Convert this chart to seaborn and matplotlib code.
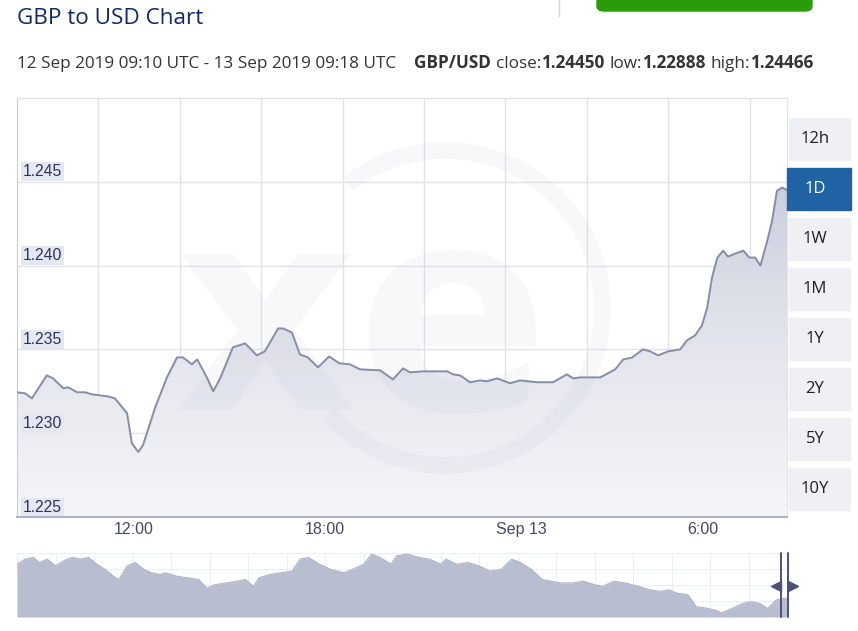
# GBP to USD, 1 day chart (xe style) rebuilt with seaborn + matplotlib
import numpy as np
import pandas as pd
import matplotlib
matplotlib.use("Agg")
import matplotlib.pyplot as plt
import matplotlib.dates as mdates
import matplotlib.transforms as mtransforms
from matplotlib.colors import LinearSegmentedColormap
from matplotlib.patches import Rectangle, FancyBboxPatch, Arc
import seaborn as sns

# --- data --------------------------------------------------------------
times_12 = ["09:10", "09:25", "09:38", "10:06", "10:18", "10:37", "10:46", "11:03", "11:18", "11:31",
            "12:00", "12:14", "12:37", "12:46", "12:58", "13:07", "13:30", "13:52", "14:11", "14:22",
            "14:39", "14:49", "15:07", "15:19", "15:32", "15:56", "16:19", "16:41", "16:56", "17:21",
            "17:30", "17:47", "18:02", "18:17", "18:36", "18:57", "19:16", "19:36", "19:55", "20:33",
            "20:57", "21:16", "21:29", "21:54", "22:39", "22:50", "23:03", "23:22", "23:41", "23:54"]
times_13 = ["00:13", "00:37", "00:56", "01:28", "01:58", "02:24", "02:36", "02:49", "03:27", "03:55",
            "04:10", "04:27", "04:47", "05:01", "05:16", "05:34", "05:57", "06:10", "06:25", "06:38",
            "06:48", "06:57", "07:07", "07:18", "07:27", "07:40", "07:56", "08:07", "08:18", "08:28",
            "08:41", "08:50", "08:59", "09:09", "09:18"]
rates = [1.23244, 1.23238, 1.23208, 1.23345, 1.23327, 1.23268, 1.23274, 1.23244, 1.23244, 1.23232,
         1.23220, 1.23208, 1.23119, 1.22940, 1.22888, 1.22929, 1.23155, 1.23333, 1.23452, 1.23452,
         1.23411, 1.23440, 1.23333, 1.23250, 1.23327, 1.23512, 1.23536, 1.23464, 1.23488, 1.23625,
         1.23625, 1.23601, 1.23470, 1.23452, 1.23393, 1.23458, 1.23417, 1.23411, 1.23381, 1.23375,
         1.23321, 1.23387, 1.23363, 1.23369, 1.23369, 1.23351, 1.23345, 1.23304, 1.23315, 1.23310,
         1.23327, 1.23298, 1.23315, 1.23304, 1.23304, 1.23351, 1.23327, 1.23333, 1.23333, 1.23381,
         1.23440, 1.23452, 1.23500, 1.23488, 1.23464, 1.23488, 1.23500, 1.23554, 1.23583, 1.23643,
         1.23750, 1.23929, 1.24048, 1.24089, 1.24054, 1.24071, 1.24089, 1.24048, 1.24048, 1.24000,
         1.24149, 1.24268, 1.24446, 1.24466, 1.24450]

y_ticks = [1.225, 1.230, 1.235, 1.240, 1.245]
x_ticks = ["2019-09-12 12:00", "2019-09-12 18:00", "2019-09-13 00:00", "2019-09-13 06:00"]
x_tick_labels = ["12:00", "18:00", "Sep 13", "6:00"]
ranges = ["12h", "1D", "1W", "1M", "1Y", "2Y", "5Y", "10Y"]

# navigator strip (long history, relative level)
nav_step = [0, 15, 30, 40, 55, 70, 85, 100, 115, 130, 145, 160, 175, 185, 200, 215, 230, 245, 260, 270,
            290, 310, 330, 345, 360, 380, 400, 415, 430, 440, 460, 480, 500, 515, 530, 550, 570, 595, 610, 630,
            645, 660, 680, 690, 710, 730, 750, 770, 780, 800, 820, 840, 860, 880, 900, 915, 935, 955, 970, 990,
            1010, 1030, 1050, 1065, 1085, 1105, 1130, 1150, 1170, 1185, 1200, 1220, 1235, 1250, 1270, 1280,
            1300, 1320, 1335, 1350, 1365, 1380, 1395, 1400]
nav_level = [0.824, 0.904, 0.931, 0.851, 0.904, 0.798, 0.878, 0.931, 0.904, 0.931,
             0.824, 0.745, 0.638, 0.585, 0.798, 0.851, 0.745, 0.691, 0.665, 0.691,
             0.638, 0.612, 0.585, 0.452, 0.505, 0.532, 0.559, 0.585, 0.479, 0.612,
             0.665, 0.691, 0.718, 0.904, 0.931, 0.824, 0.745, 0.691, 0.745, 0.824,
             0.984, 0.931, 0.824, 0.957, 0.984, 0.931, 0.904, 0.824, 0.904, 0.824,
             0.851, 0.798, 0.718, 0.745, 0.904, 0.851, 0.745, 0.585, 0.559, 0.532,
             0.532, 0.559, 0.505, 0.479, 0.559, 0.532, 0.479, 0.426, 0.399, 0.426,
             0.372, 0.346, 0.160, 0.144, 0.106, 0.064, 0.133, 0.213, 0.239, 0.213,
             0.133, 0.266, 0.293, 0.293]

stamps = ["2019-09-12 " + t for t in times_12] + ["2019-09-13 " + t for t in times_13]
df = pd.DataFrame({"time": pd.to_datetime(stamps), "rate": rates})
start, end = df.time.iloc[0], df.time.iloc[-1]

sns.set_style("white")
W, H = 858, 631
fig = plt.figure(figsize=(W / 100, H / 100), dpi=100)


def fx(px):
    return px / W


def fy(py):
    return 1 - py / H


# --- main chart ---------------------------------------------------------
ax = fig.add_axes([fx(17), fy(517), fx(770), 419 / H])
ax.set_facecolor("white")

fill = ax.fill_between(df.time, df.rate, y_ticks[0], color="none", lw=0)
grad = np.linspace(0, 1, 256).reshape(-1, 1)
cmap = LinearSegmentedColormap.from_list("xe", ["#bcc0d3", "#dfe1ea", "#f5f6f9"])
im = ax.imshow(grad, extent=[mdates.date2num(start), mdates.date2num(end), 1.225, 1.250],
               origin="upper", aspect="auto", cmap=cmap, zorder=1)
im.set_clip_path(fill.get_paths()[0], transform=ax.transData)

sns.lineplot(data=df, x="time", y="rate", ax=ax, color="#878ca7", linewidth=1.4, zorder=4)

# faint xe watermark
ax.text(0.448, 0.255, "xe", transform=ax.transAxes, fontsize=205, fontweight="bold",
        color="#9aa0bd", alpha=0.065, ha="center", va="baseline", zorder=2, family="DejaVu Sans")
ax.add_patch(Arc((4.45, fy(308) * H / 100), 3.15, 3.15, theta1=-138, theta2=128,
                 transform=fig.dpi_scale_trans, color="#9aa0bd", alpha=0.065, lw=12, zorder=2))

ax.set_xlim(start, end)
ax.set_ylim(1.225, 1.250)
ax.set_xlabel("")
ax.set_ylabel("")

# grid
ax.set_yticks(y_ticks[1:])
ax.yaxis.grid(True, color="#e2e3e9", lw=1)
ax.tick_params(axis="y", left=False, labelleft=False)
x0n, x1n = mdates.date2num(start), mdates.date2num(end)
for k in range(1, 10):
    ax.axvline(x0n + k * 0.1057 * (x1n - x0n), color="#e2e3e9", lw=1, zorder=0.5)

ax.set_xticks(list(pd.to_datetime(x_ticks)) + [end])
ax.tick_params(axis="x", direction="out", length=20, width=1, color="#e3e4ea",
               labelbottom=False)
lab_tr = mtransforms.offset_copy(ax.get_xaxis_transform(), fig=fig, x=6, y=0, units="dots")
for t, lab in zip(pd.to_datetime(x_ticks), x_tick_labels):
    ax.text(t, -0.031, lab, transform=lab_tr, ha="left", va="center", fontsize=11.5,
            color="#434869", family="Liberation Sans", clip_on=False)

ytr = mtransforms.offset_copy(ax.get_yaxis_transform(), fig=fig, x=0, y=10, units="dots")
for v in y_ticks:
    ax.text(0.0075, v, f"{v:.3f}", transform=ytr, ha="left", va="center", fontsize=11.3,
            color="#2f355a", family="Liberation Sans", zorder=5,
            bbox=dict(boxstyle="square,pad=0.12", fc="#e4e6f0", ec="none"))

for s in ["top", "right", "left", "bottom"]:
    ax.spines[s].set_visible(True)
ax.spines["top"].set_color("#dfe0e6")
ax.spines["right"].set_color("#e2e3e9")
ax.spines["left"].set_color("#c9ccda")
ax.spines["bottom"].set_color("#aeb2c7")
ax.spines["bottom"].set_linewidth(1.5)

# header
fig.text(fx(17), fy(18), "GBP to USD Chart", fontsize=16.2, color="#0e2a6a",
         family="Open Sans", va="center", ha="left")
prev = fig.text(fx(17), fy(72), "12 Sep 2019 09:10 UTC - 13 Sep 2019 09:18 UTC", fontsize=12.3,
                color="#333333", family="Open Sans", va="bottom", ha="left")
pieces = [("GBP/USD", "bold", 13), ("close:", "normal", 3.5), ("1.24450", "bold", 0),
          ("low:", "normal", 3.5), ("1.22888", "bold", 0), ("high:", "normal", 3.5), ("1.24466", "bold", 0)]
for txt, wt, gap in pieces:
    prev = ax.annotate(txt, xy=(1, 0), xycoords=prev, xytext=(gap, 0), textcoords="offset points",
                       fontsize=12.3, color="#333333", family="Open Sans", fontweight=wt,
                       va="bottom", ha="left", annotation_clip=False)

fig.patches.append(FancyBboxPatch((fx(597), fy(11)), fx(215), 0.05,
                                  boxstyle="round,pad=0,rounding_size=0.008",
                                  transform=fig.transFigure, color="#2a9c0a", zorder=1))
fig.lines.append(plt.Line2D([fx(559), fx(559)], [fy(0), fy(16)], color="#d6d6d6", lw=1,
                            transform=fig.transFigure))

# range buttons
for i, r in enumerate(ranges):
    top = 118 + 50 * i
    active = r == "1D"
    x_l, w = (787, 64) if active else (789, 61)
    fig.patches.append(Rectangle((fx(x_l), fy(top + 42)), fx(w), 42 / H, transform=fig.transFigure,
                                 color="#1f63a5" if active else "#eef0f4", zorder=1))
    fig.text(fx(815), fy(top + 21), r, ha="center", va="center", fontsize=12, family="Open Sans",
             color="white" if active else "#1e1e1e")

# --- navigator strip ------------------------------------------------------
ax2 = fig.add_axes([fx(17), fy(617), fx(770), 64 / H])
ax2.fill_between(nav_step, nav_level, 0, color="#b9bdd0", lw=0, zorder=2)
sns.lineplot(x=nav_step, y=nav_level, ax=ax2, color="#adb2c7", linewidth=0.8, zorder=3)
ax2.set_xlim(0, 1400)
ax2.set_ylim(0, 1)
ax2.set_xticks(np.arange(0, 1400, 70))
ax2.set_yticks([0.25, 0.5, 0.75])
ax2.grid(True, color="#eceef3", lw=0.8)
ax2.tick_params(left=False, bottom=False, labelleft=False, labelbottom=False)
ax2.set_xlabel("")
ax2.set_ylabel("")
for s in ax2.spines.values():
    s.set_visible(False)
ax2.spines["top"].set_visible(True)
ax2.spines["top"].set_color("#eceef3")
for xf in [0.992, 1.0015]:
    ax2.plot([xf, xf], [0, 1], transform=ax2.transAxes, color="#4b5179", lw=1.4, clip_on=False, zorder=5)
ax2.plot([0.986], [0.48], marker="<", ms=7, color="#4b5179", transform=ax2.transAxes, clip_on=False, zorder=5)
ax2.plot([1.008], [0.48], marker=">", ms=7, color="#4b5179", transform=ax2.transAxes, clip_on=False, zorder=5)

fig.savefig("out.png", dpi=100)
